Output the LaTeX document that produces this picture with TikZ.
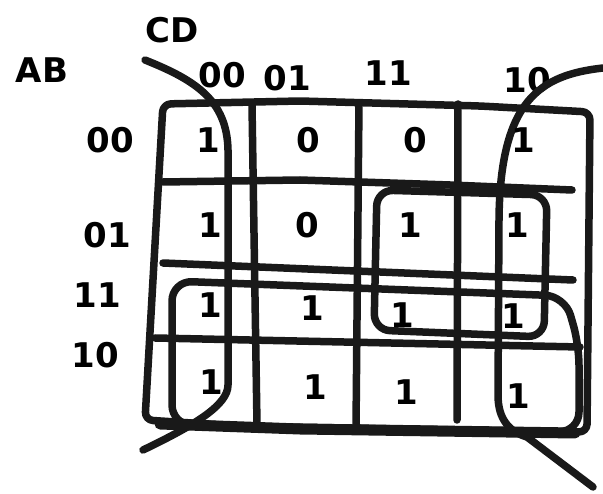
\documentclass[tikz,border=0pt]{standalone}
\usepackage{fontspec}
\setmainfont{DejaVu Sans}
\begin{document}
\begin{tikzpicture}[x=1pt,y=-1pt,
  ink/.style={line width=7.5pt,line cap=round,line join=round,draw=black!90},
  lbl/.style={font=\fontsize{34}{36}\selectfont\bfseries,inner sep=0pt},
  val/.style={font=\fontsize{34}{36}\selectfont\bfseries,inner sep=0pt}]
\useasboundingbox (0,0) rectangle (603,494);
% labels
\node[lbl] (cd) at (172,30) {CD};
\node[lbl] (ab) at (42,70) {AB};
\node[lbl] (c00) at (222,75) {00};
\node[lbl] (c01) at (287,78) {01};
\node[lbl] (c11) at (388,73) {11};
\node[lbl] (c10) at (527,80) {10};
\node[lbl] (r00) at (110,140) {00};
\node[lbl] (r01) at (107,235) {01};
\node[lbl] (r11) at (97,295) {11};
\node[lbl] (r10) at (95,355) {10};
% grid
\draw[ink,rounded corners=8pt] (163,104) -- (300,101) -- (480,106) -- (590,112) -- (587,432) -- (300,430) -- (145,420) -- cycle;
\draw[ink] (252,105) -- (257,425);
\draw[ink] (359,103) -- (356,428);
\draw[ink] (458,104) -- (457,420);
\draw[ink] (163,182) -- (300,180) -- (450,185) -- (572,190);
\draw[ink] (163,263) -- (573,280);
\draw[ink] (155,338) -- (580,347);
% loops
\draw[ink] (145,60) .. controls (195,80) and (227,100) .. (228,150) -- (228,385) .. controls (228,405) and (195,425) .. (143,450);
\draw[ink] (603,68) .. controls (540,75) and (500,100) .. (499,220) -- (498,395) .. controls (498,420) and (510,432) .. (527,437) -- (593,487);
\draw[ink,rounded corners=16pt] (377,190) -- (547,195) -- (544,337) -- (374,330) -- cycle;
\draw[ink,rounded corners=20pt] (172,425) -- (172,281) -- (565,296) -- (579,345) -- (579,432) -- cycle;
\draw[ink,line width=11pt] (160,424) -- (300,429) -- (575,433);
% cell values
\node[val] (v00) at (208,140) {1};
\node[val] (v01) at (308,140) {0};
\node[val] (v03) at (415,140) {0};
\node[val] (v02) at (523,140) {1};
\node[val] (v10) at (210,225) {1};
\node[val] (v11) at (307,225) {0};
\node[val] (v13) at (410,225) {1};
\node[val] (v12) at (517,225) {1};
\node[val] (v30) at (210,305) {1};
\node[val] (v31) at (312,308) {1};
\node[val] (v33) at (402,315) {1};
\node[val] (v32) at (513,316) {1};
\node[val] (v20) at (211,382) {1};
\node[val] (v21) at (315,387) {1};
\node[val] (v23) at (406,392) {1};
\node[val] (v22) at (518,396) {1};
\end{tikzpicture}
\end{document}
